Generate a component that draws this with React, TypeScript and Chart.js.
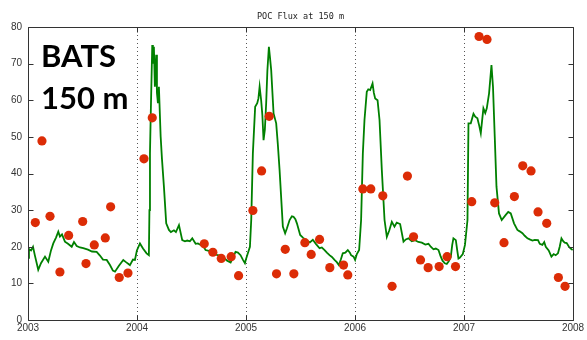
import React, { useEffect, useRef } from "react";
import { Chart, registerables } from "chart.js";

Chart.register(...registerables);

// Model POC flux (green line): fractional year, value
const lineYears = [
  2003.0, 2003.009, 2003.028, 2003.046, 2003.064, 2003.094, 2003.119, 2003.156, 2003.186, 2003.211,
  2003.232, 2003.257, 2003.278, 2003.293, 2003.312, 2003.339, 2003.367, 2003.401, 2003.422, 2003.447,
  2003.477, 2003.507, 2003.55, 2003.587, 2003.63, 2003.66, 2003.688, 2003.722, 2003.752, 2003.779,
  2003.798, 2003.834, 2003.874, 2003.899, 2003.935, 2003.963, 2003.981, 2003.999, 2004.027, 2004.055,
  2004.088, 2004.109, 2004.114, 2004.119, 2004.125, 2004.14, 2004.146, 2004.155, 2004.164, 2004.176,
  2004.183, 2004.192, 2004.201, 2004.217, 2004.229, 2004.247, 2004.268, 2004.293, 2004.311, 2004.339,
  2004.357, 2004.385, 2004.415, 2004.44, 2004.461, 2004.485, 2004.507, 2004.538, 2004.559, 2004.584,
  2004.605, 2004.629, 2004.669, 2004.706, 2004.733, 2004.767, 2004.797, 2004.827, 2004.859, 2004.88,
  2004.904, 2004.926, 2004.95, 2004.971, 2004.99, 2004.999, 2005.017, 2005.036, 2005.048, 2005.063,
  2005.084, 2005.103, 2005.114, 2005.125, 2005.139, 2005.15, 2005.161, 2005.173, 2005.185, 2005.196,
  2005.21, 2005.219, 2005.231, 2005.253, 2005.277, 2005.292, 2005.308, 2005.338, 2005.359, 2005.375,
  2005.4, 2005.421, 2005.436, 2005.453, 2005.467, 2005.497, 2005.522, 2005.552, 2005.586, 2005.613,
  2005.641, 2005.675, 2005.696, 2005.721, 2005.742, 2005.766, 2005.788, 2005.812, 2005.833, 2005.852,
  2005.87, 2005.888, 2005.911, 2005.934, 2005.953, 2005.964, 2005.987, 2006.001, 2006.017, 2006.038,
  2006.056, 2006.072, 2006.087, 2006.108, 2006.122, 2006.139, 2006.161, 2006.173, 2006.185, 2006.207,
  2006.225, 2006.246, 2006.271, 2006.292, 2006.315, 2006.338, 2006.362, 2006.383, 2006.414, 2006.445,
  2006.466, 2006.491, 2006.521, 2006.551, 2006.581, 2006.613, 2006.645, 2006.674, 2006.695, 2006.72,
  2006.741, 2006.766, 2006.784, 2006.803, 2006.824, 2006.842, 2006.86, 2006.879, 2006.892, 2006.903,
  2006.925, 2006.938, 2006.949, 2006.961, 2006.989, 2007.009, 2007.032, 2007.041, 2007.062, 2007.087,
  2007.103, 2007.123, 2007.14, 2007.154, 2007.178, 2007.195, 2007.209, 2007.23, 2007.252, 2007.266,
  2007.282, 2007.298, 2007.321, 2007.346, 2007.383, 2007.406, 2007.429, 2007.459, 2007.49, 2007.511,
  2007.536, 2007.557, 2007.582, 2007.603, 2007.628, 2007.649, 2007.679, 2007.695, 2007.719, 2007.736,
  2007.75, 2007.777, 2007.802, 2007.823, 2007.841, 2007.862, 2007.878, 2007.894, 2007.91, 2007.924,
  2007.942, 2007.963, 2007.979, 2007.997,
];
const lineValues = [
  17.0, 19.4, 19.0, 20.0, 17.5, 13.7, 15.5, 17.3, 15.9, 19.0,
  20.9, 22.5, 24.1, 22.8, 23.4, 21.4, 20.8, 20.0, 21.3, 20.2,
  19.8, 19.6, 19.2, 18.7, 18.6, 17.6, 16.5, 16.4, 15.0, 13.5,
  13.2, 14.8, 16.4, 15.8, 15.0, 16.5, 16.4, 19.0, 20.9, 19.5,
  18.2, 17.7, 30.0, 45.5, 54.6, 75.1, 70.0, 74.6, 63.7, 72.4,
  62.0, 59.2, 63.7, 50.1, 44.0, 36.4, 26.4, 24.6, 24.0, 24.5,
  24.0, 25.9, 21.8, 21.5, 21.7, 21.5, 22.3, 20.8, 20.9, 20.5,
  20.3, 19.1, 18.8, 18.2, 17.8, 17.5, 17.0, 16.2, 15.7, 17.0,
  18.6, 18.4, 17.7, 16.5, 15.5, 16.5, 18.2, 20.0, 27.3, 45.5,
  58.2, 59.2, 60.5, 63.7, 60.0, 56.0, 49.1, 52.0, 59.2, 68.0,
  74.6, 72.0, 68.3, 56.4, 53.7, 48.0, 41.0, 25.5, 23.7, 25.0,
  27.3, 28.3, 28.2, 27.5, 26.4, 23.2, 22.5, 21.8, 21.2, 21.9,
  20.8, 19.6, 19.8, 19.1, 18.4, 17.7, 17.2, 16.4, 15.8, 15.0,
  16.5, 18.2, 18.4, 19.1, 18.4, 17.7, 17.3, 16.4, 18.0, 19.1,
  27.3, 45.5, 54.6, 62.3, 63.0, 62.8, 64.6, 62.0, 60.5, 60.0,
  54.6, 41.0, 27.3, 22.7, 24.5, 26.8, 25.5, 26.6, 26.2, 21.4,
  22.0, 22.3, 21.5, 21.8, 21.3, 21.1, 20.6, 20.8, 20.0, 19.3,
  19.5, 19.1, 17.5, 16.2, 15.5, 15.3, 16.0, 17.3, 20.5, 22.3,
  21.8, 19.0, 16.8, 17.0, 18.0, 20.5, 27.3, 53.7, 53.7, 56.3,
  55.5, 55.1, 53.0, 51.0, 57.8, 56.5, 57.8, 61.9, 69.6, 63.7,
  50.1, 36.4, 29.1, 27.3, 28.7, 29.5, 29.1, 26.4, 24.6, 24.2,
  23.7, 23.0, 22.3, 22.0, 21.7, 21.9, 21.8, 20.8, 20.5, 21.3,
  20.0, 19.0, 17.3, 18.0, 17.7, 18.2, 20.0, 22.3, 21.5, 21.1,
  21.0, 20.0, 19.5, 19.1,
];

// Observed POC flux (red dots)
const obsYears = [
  2003.067, 2003.128, 2003.202, 2003.293, 2003.373, 2003.502, 2003.532, 2003.608, 2003.709, 2003.758,
  2003.837, 2003.917,
  2004.064, 2004.14, 2004.617, 2004.696, 2004.773, 2004.864, 2004.932,
  2005.063, 2005.143, 2005.213, 2005.28, 2005.36, 2005.439, 2005.54, 2005.598, 2005.675, 2005.769,
  2005.895, 2005.934,
  2006.072, 2006.145, 2006.255, 2006.34, 2006.481, 2006.537, 2006.601, 2006.671, 2006.772, 2006.845,
  2006.922,
  2007.071, 2007.138, 2007.211, 2007.282, 2007.367, 2007.462, 2007.539, 2007.615, 2007.679, 2007.759,
  2007.866, 2007.927,
];
const obsValues = [
  26.6, 48.9, 28.3, 13.1, 23.1, 26.9, 15.4, 20.5, 22.4, 30.9,
  11.6, 12.8,
  44.0, 55.2, 20.8, 18.5, 16.8, 17.3, 12.1,
  29.9, 40.7, 55.6, 12.6, 19.3, 12.6, 21.1, 17.9, 22.0, 14.3,
  15.0, 12.3,
  35.8, 35.8, 33.9, 9.2, 39.3, 22.7, 16.4, 14.3, 14.6, 17.3,
  14.6,
  32.3, 77.4, 76.6, 32.0, 21.1, 33.7, 42.1, 40.7, 29.5, 26.4,
  11.6, 9.2,
];

const xTicks = [2003, 2004, 2005, 2006, 2007, 2008];
const yTicks = [0, 10, 20, 30, 40, 50, 60, 70, 80];
const titleText = "POC Flux at 150 m";
const labelLines = ["BATS", "150 m"];

export default function App() {
  const ref = useRef<HTMLCanvasElement>(null);

  useEffect(() => {
    if (!ref.current) return;

    const framePlugin = {
      id: "matlabFrame",
      beforeDatasetsDraw(chart: any) {
        const { ctx, chartArea: a, scales } = chart;
        ctx.save();
        ctx.strokeStyle = "#555";
        ctx.lineWidth = 1;
        ctx.setLineDash([1, 3]);
        for (const t of xTicks.slice(1, -1)) {
          const px = Math.round(scales.x.getPixelForValue(t)) + 0.5;
          ctx.beginPath();
          ctx.moveTo(px, a.top);
          ctx.lineTo(px, a.bottom);
          ctx.stroke();
        }
        ctx.restore();
      },
      afterDatasetsDraw(chart: any) {
        const { ctx, chartArea: a, scales } = chart;
        ctx.save();
        ctx.strokeStyle = "#333";
        ctx.lineWidth = 1;
        const L = Math.round(a.left) + 0.5;
        const R = Math.round(a.right) + 0.5;
        const T = Math.round(a.top) + 0.5;
        const B = Math.round(a.bottom) + 0.5;
        ctx.beginPath();
        ctx.rect(L, T, R - L, B - T);
        ctx.stroke();
        const tl = 5;
        ctx.beginPath();
        for (const v of yTicks) {
          const py = Math.round(scales.y.getPixelForValue(v)) + 0.5;
          ctx.moveTo(L, py);
          ctx.lineTo(L + tl, py);
          ctx.moveTo(R, py);
          ctx.lineTo(R - tl, py);
        }
        for (const t of xTicks) {
          const px = Math.round(scales.x.getPixelForValue(t)) + 0.5;
          ctx.moveTo(px, B);
          ctx.lineTo(px, B - tl);
          ctx.moveTo(px, T);
          ctx.lineTo(px, T + tl);
        }
        ctx.stroke();

        // title
        ctx.fillStyle = "#222";
        ctx.font = '8.5px "DejaVu Sans Mono"';
        ctx.textAlign = "center";
        ctx.textBaseline = "middle";
        ctx.fillText(titleText, (a.left + a.right) / 2, 17);

        // station label
        ctx.fillStyle = "#000";
        ctx.font = "bold 31px Lato";
        ctx.textAlign = "left";
        ctx.textBaseline = "alphabetic";
        ctx.fillText(labelLines[0], 41, 67);
        ctx.fillText(labelLines[1], 41, 109);
        ctx.restore();
      },
    };

    const chart = new Chart(ref.current, {
      type: "scatter",
      data: {
        datasets: [
          {
            type: "scatter",
            label: "Observed",
            data: obsYears.map((x, i) => ({ x, y: obsValues[i] })),
            backgroundColor: "#dc2c06",
            borderWidth: 0,
            pointRadius: 4.6,
            order: 1,
          } as any,
          {
            type: "line",
            label: "Model",
            data: lineYears.map((x, i) => ({ x, y: lineValues[i] })),
            borderColor: "#008000",
            borderWidth: 1.8,
            pointRadius: 0,
            fill: false,
            tension: 0,
            order: 2,
          } as any,
        ],
      },
      options: {
        animation: false,
        responsive: false,
        devicePixelRatio: 1,
        layout: { padding: { top: 27, right: 14, left: 0, bottom: 0 } },
        plugins: {
          legend: { display: false },
          tooltip: { enabled: false },
          title: { display: false },
        },
        scales: {
          x: {
            type: "linear",
            min: 2003,
            max: 2008,
            afterFit: (s: any) => {
              s.height = 20;
            },
            grid: { display: false, drawTicks: false },
            border: { display: false },
            ticks: {
              stepSize: 1,
              padding: 2,
              maxRotation: 0,
              autoSkip: false,
              color: "#333",
              font: { family: "Liberation Sans", size: 10 },
              callback: (v: any) => String(v),
            },
          },
          y: {
            type: "linear",
            min: 0,
            max: 80,
            afterFit: (s: any) => {
              s.width = 28;
            },
            grid: { display: false, drawTicks: false },
            border: { display: false },
            ticks: {
              stepSize: 10,
              padding: 6,
              color: "#333",
              font: { family: "Liberation Sans", size: 10 },
              callback: (v: any) => String(v),
            },
          },
        },
      },
      plugins: [framePlugin],
    });

    return () => chart.destroy();
  }, []);

  return (
    <div style={{ position: "absolute", left: 0, top: 0, width: 587, height: 340, background: "#fff" }}>
      <canvas ref={ref} width={587} height={340} style={{ display: "block" }} />
    </div>
  );
}
